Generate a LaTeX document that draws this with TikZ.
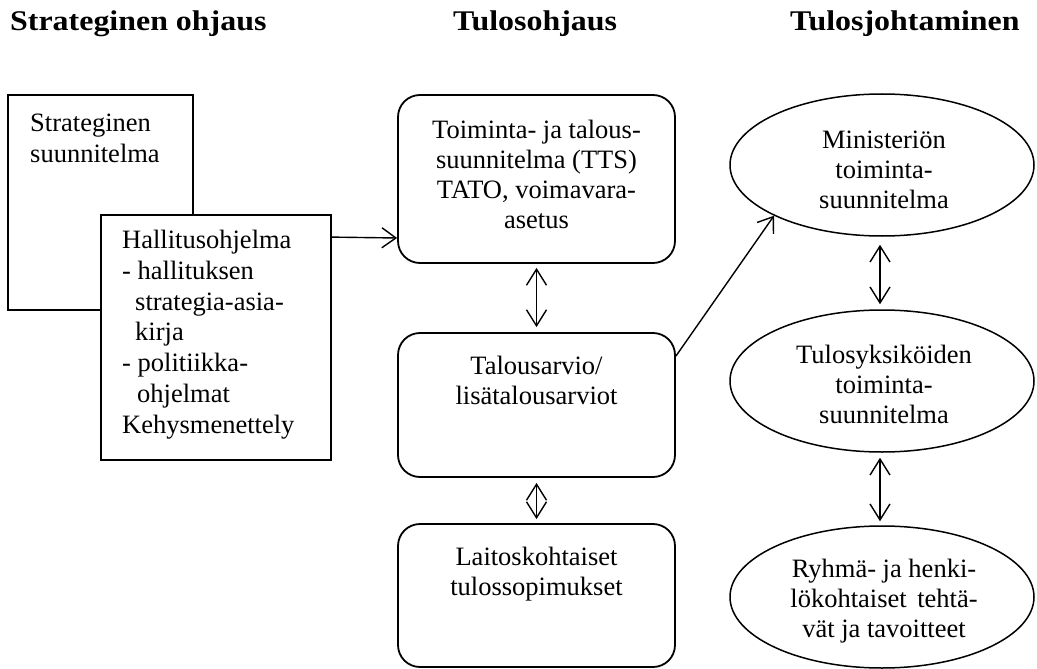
\documentclass[tikz,border=0pt]{standalone}
\usepackage{fontspec}
\setmainfont{Liberation Serif}
\newfontfamily\titlefont{Liberation Serif}[FakeStretch=1.12]
\usetikzlibrary{arrows.meta,shapes.geometric}
\begin{document}
\begin{tikzpicture}[x=1pt,y=-1pt,
  title/.style={font=\titlefont\bfseries\fontsize{28.5}{34}\selectfont, anchor=base west, inner sep=0pt},
  ctxt/.style={font=\fontsize{26.5}{30}\selectfont, inner sep=0pt, align=center, anchor=base},
  ltxt/.style={font=\fontsize{26.5}{30.7}\selectfont, inner sep=0pt, align=left, anchor=base west},
  sqbox/.style={draw, line width=1.8pt, fill=white, inner sep=0pt},
  rbox/.style={draw, line width=1.8pt, rounded corners=22pt, inner sep=0pt, minimum width=277pt},
  ebox/.style={draw, ellipse, line width=1.5pt, inner sep=0pt, minimum width=304pt, minimum height=142pt},
  arr/.style={line width=1.4pt, -{Straight Barb[length=14pt,width=20pt,line width=1.4pt]}},
  dbl/.style={line width=1.4pt, {Straight Barb[length=16pt,width=20pt,line width=1.4pt]}-{Straight Barb[length=16pt,width=20pt,line width=1.4pt]}}
]
\useasboundingbox (0,0) rectangle (1037,669);

% titles
\node[title] (t1) at (10,31) {Strateginen ohjaus};
\node[title] (t2) at (453,31) {Tulosohjaus};
\node[title] (t3) at (790,31) {Tulosjohtaminen};

% left boxes (text anchors at baseline of last line)
\node[sqbox, minimum width=185pt, minimum height=215pt] (sb) at (100.5,202.5) {};
\node[ltxt] (sbt) at (30,162) {Strateginen\\suunnitelma};
\node[sqbox, minimum width=230pt, minimum height=245pt] (hb) at (216,337.5) {};
\node[ltxt] (hbt) at (122,433) {Hallitusohjelma\\- hallituksen\\\hspace*{13pt}strategia-asia-\\\hspace*{13pt}kirja\\- politiikka-\\\hspace*{15pt}ohjelmat\\Kehysmenettely};

% middle rounded boxes
\node[rbox, minimum height=168pt] (r1) at (536.5,179) {};
\node[ctxt] (r1t) at (536.5,228) {Toiminta- ja talous-\\suunnitelma (TTS)\\TATO, voimavara-\\asetus};
\node[rbox, minimum height=144pt] (r2) at (536.5,405) {};
\node[ctxt] (r2t) at (536.5,404) {Talousarvio/\\lisätalousarviot};
\node[rbox, minimum height=143pt] (r3) at (536.5,595.5) {};
\node[ctxt] (r3t) at (536.5,595) {Laitoskohtaiset\\tulossopimukset};

% ellipses
\node[ebox] (e1) at (882,165) {};
\node[ctxt] (e1t) at (884,208) {Ministeriön\\toiminta-\\suunnitelma};
\node[ebox] (e2) at (882,381) {};
\node[ctxt] (e2t) at (884,423) {Tulosyksiköiden\\toiminta-\\suunnitelma};
\node[ebox] (e3) at (882,597) {};
\node[ctxt] (e3t) at (884,637) {Ryhmä- ja henki-\\lökohtaiset\hspace{4pt} tehtä-\\vät ja tavoitteet};

% connectors
\draw[arr] ([yshift=-23pt]hb.north east) -- ([yshift=-59pt]r1.west);
\draw[dbl, shorten <=4pt, shorten >=5pt] (r1.south) -- (r2.north);
\draw[dbl, shorten <=5pt, shorten >=4pt] (r2.south) -- (r3.north);
\draw[arr] ([yshift=-24pt]r2.north east) -- (e1.south west);
\draw[dbl, shorten <=8pt, shorten >=5pt] ([xshift=-2pt]e1.south) -- ([xshift=-2pt]e2.north);
\draw[dbl, shorten <=5pt, shorten >=4pt] ([xshift=-2pt]e2.south) -- ([xshift=-2pt]e3.north);
\end{tikzpicture}
\end{document}
